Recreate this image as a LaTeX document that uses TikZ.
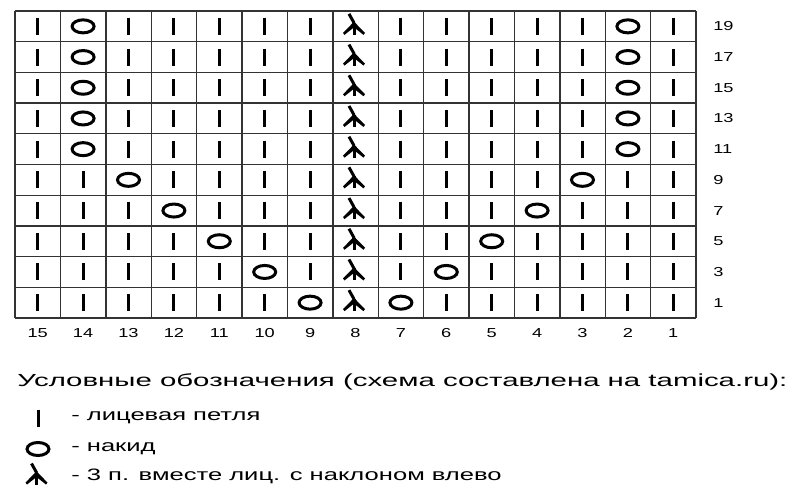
\documentclass[tikz,border=0pt]{standalone}
\usepackage{fontspec}
\setmainfont{Liberation Sans}
\newcommand{\knitSt}[1]{%%
  %% Draw a knit stitch.
  \draw[stitchStyle,shift={(#1)}] (0,-8.5) -- (0,8.5);
}
\newcommand{\yarnOver}[1]{%%
  %% Draw a yarn over.
  \draw[stitchStyle,shift={(#1)}] (0,0) ellipse[x radius=11,y radius=6.5];
}
\newcommand{\decLeft}[1]{%%
  %% Draw three stitches together, leaning left.
  \draw[stitchStyle,shift={(#1)}] (-6.5,-12.5) -- (-1.5,-3.5);
  \draw[stitchStyle,shift={(#1)}] (-1.5,-3.5) -- (-1.5,8.5);
  \fill[shift={(#1)}] (-1.5,-5) .. controls (-5,-1) .. (-12.5,6.5) -- (-11,8.5)
    .. controls (-6,4) .. (-1.5,1) .. controls (3,4) .. (8,8.5) -- (9.5,6.5)
    .. controls (2,-1) .. cycle;
}
\newcommand{\keyItem}[3]{%%
  \coordinate (#1) at (38,#2);
  \node[keyStyle] (#1-text) at (71,#2) {#3};
}
\begin{document}
\begin{tikzpicture}[%%
  x=1pt,y=-1pt,%%
  gridStyle/.style={line width=1.4pt,black!80},%%
  stitchStyle/.style={line width=3pt,black},%%
  numStyle/.style={font=\fontsize{13}{15}\selectfont,xscale=1.4,inner sep=0pt},%%
  keyStyle/.style={font=\fontsize{16.5}{19}\selectfont,xscale=1.55,anchor=west,inner sep=0pt},%%
  titleStyle/.style={font=\fontsize{17.5}{20}\selectfont,xscale=1.68,anchor=west,inner sep=0pt}
]
\useasboundingbox[fill=white] (0,0) rectangle (808,500);
%%
\pgfmathsetmacro{\dx}{45.4}
\pgfmathsetmacro{\dy}{30.7}
\pgfmathsetmacro{\xlow}{15}
\pgfmathsetmacro{\ylow}{11}
%% Lines of the chart.
\foreach \i in {0,...,15}
  \draw[gridStyle] ({\xlow+\i*\dx},\ylow) -- ({\xlow+\i*\dx},{\ylow+10*\dy});
\foreach \j in {0,...,10}
  \draw[gridStyle] (\xlow,{\ylow+\j*\dy}) -- ({\xlow+15*\dx},{\ylow+\j*\dy});
%% Stitches, row by row, with the columns of the two yarn overs.
\foreach \r/\a/\b in {1/2/14,2/2/14,3/2/14,4/2/14,5/2/14,6/3/13,7/4/12,8/5/11,9/6/10,10/7/9}{
  \pgfmathtruncatemacro{\rowNum}{21-2*\r}
  \coordinate (row-\r) at ({\xlow+15*\dx+17},{\ylow+(\r-0.5)*\dy});
  \node[numStyle,anchor=west] (row-\r-label) at (row-\r) {\rowNum};
  \foreach \c in {1,...,15}{
    \coordinate (cell-\c-\r) at ({\xlow+(\c-0.5)*\dx},{\ylow+(\r-0.5)*\dy});
    \ifnum\c=8 \decLeft{cell-\c-\r}
    \else\ifnum\c=\a \yarnOver{cell-\c-\r}
    \else\ifnum\c=\b \yarnOver{cell-\c-\r}
    \else \knitSt{cell-\c-\r}
    \fi\fi\fi
  }
}
%% Column numbers.
\foreach \c in {1,...,15}{
  \pgfmathtruncatemacro{\colNum}{16-\c}
  \node[numStyle] (col-\c) at ({\xlow+(\c-0.5)*\dx},333) {\colNum};
}
%%
%% Key.
\node[titleStyle] (title) at (17,382) {Условные обозначения (схема составлена на tamica.ru):};
\keyItem{key-knit}{418}{- лицевая петля}
\keyItem{key-yo}{449}{- накид}
\keyItem{key-dec}{476}{- 3 п. вместе лиц. с наклоном влево}
\knitSt{key-knit}
\yarnOver{key-yo}
\decLeft{key-dec}
\end{tikzpicture}
\end{document}
